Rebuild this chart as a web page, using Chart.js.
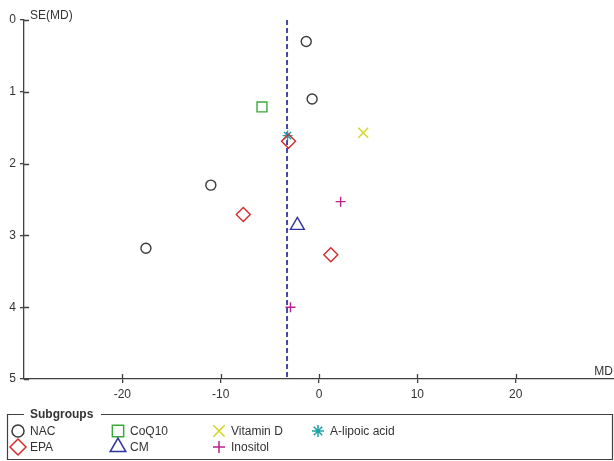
<!DOCTYPE html>
<html>
<head>
<meta charset="utf-8">
<script src="https://cdn.jsdelivr.net/npm/chart.js"></script>
<style>
  body { margin: 0; background: #fff; }
  canvas { display: block; }
</style>
</head>
<body>
<canvas id="funnel" width="614" height="461"></canvas>
<script>
// values (MD on x, SE(MD) on y)
const nacMD = [-1.3, -0.7, -11.0, -17.6]
const nacSE = [0.30, 1.10, 2.30, 3.18]
const epaMD = [-3.1, -7.7, 1.2]
const epaSE = [1.69, 2.71, 3.27]
const coq10MD = [-5.8]
const coq10SE = [1.21]
const cmMD = [-2.2]
const cmSE = [2.86]
const vitDMD = [4.5]
const vitDSE = [1.57]
const inositolMD = [2.2, -2.9]
const inositolSE = [2.53, 4.0]
const lipoicMD = [-3.2]
const lipoicSE = [1.61]
const pooledMD = -3.25

const xTicks = [-20, -10, 0, 10, 20]
const yTicks = [0, 1, 2, 3, 4, 5]

const axisColor = '#404040'
const textColor = '#333333'
const font = 'Liberation Sans, Arial, sans-serif'

function points(md, se) {
    return md.map((x, i) => ({ x: x, y: se[i] }))
}

function group(label, md, se, style, color, radius) {
    return {
        label: label,
        data: points(md, se),
        pointStyle: style,
        pointRadius: radius,
        pointHoverRadius: radius,
        pointBorderWidth: 1.4,
        borderColor: color,
        backgroundColor: 'rgba(0,0,0,0)',
        showLine: false,
    }
}

// legend is read column by column, like the original
const groups = [
    group('NAC', nacMD, nacSE, 'circle', '#3a3a3a', 5),
    group('EPA', epaMD, epaSE, 'rectRot', '#d42a2a', 7),
    group('CoQ10', coq10MD, coq10SE, 'rect', '#3aaa3a', 7),
    group('CM', cmMD, cmSE, 'triangle', '#2f35a0', 8),
    group('Vitamin D', vitDMD, vitDSE, 'crossRot', '#d6d41e', 7),
    group('Inositol', inositolMD, inositolSE, 'cross', '#b8228e', 5),
    group('A-lipoic acid', lipoicMD, lipoicSE, 'star', '#1ea3a8', 5),
]

const pooledLine = {
    label: 'pooled',
    data: [{ x: pooledMD, y: 0 }, { x: pooledMD, y: 5 }],
    showLine: true,
    borderColor: '#4646aa',
    borderWidth: 2,
    borderDash: [5, 3],
    pointRadius: 0,
    pointHoverRadius: 0,
}

// ticks cross the axis line a little on the inside too
const innerTicks = {
    id: 'innerTicks',
    afterDraw(chart) {
        const ctx = chart.ctx
        const x = chart.scales.x
        const y = chart.scales.y
        ctx.save()
        ctx.strokeStyle = axisColor
        ctx.lineWidth = 1.3
        ctx.beginPath()
        for (const v of xTicks) {
            const px = Math.round(x.getPixelForValue(v)) + 0.5
            ctx.moveTo(px, x.top)
            ctx.lineTo(px, x.top - 5)
        }
        for (const v of yTicks) {
            const py = Math.round(y.getPixelForValue(v)) + 0.5
            ctx.moveTo(y.right, py)
            ctx.lineTo(y.right + 5, py)
        }
        ctx.stroke()
        ctx.restore()
    },
}

const axisTitles = {
    id: 'axisTitles',
    afterDraw(chart) {
        const ctx = chart.ctx
        ctx.save()
        ctx.fillStyle = textColor
        ctx.font = '12px ' + font
        ctx.textBaseline = 'alphabetic'
        ctx.textAlign = 'left'
        ctx.fillText('SE(MD)', 30, 19)
        ctx.textAlign = 'right'
        ctx.fillText('MD', 613, 375)
        ctx.restore()
    },
}

const subgroupLegend = {
    id: 'subgroupLegend',
    afterDraw(chart) {
        const ctx = chart.ctx
        const left = 7.5, top = 414.5, right = 612.5, bottom = 459.5
        const gapFrom = 24, gapTo = 101
        ctx.save()
        ctx.strokeStyle = axisColor
        ctx.lineWidth = 1.2
        ctx.beginPath()
        ctx.moveTo(gapFrom, top)
        ctx.lineTo(left, top)
        ctx.lineTo(left, bottom)
        ctx.lineTo(right, bottom)
        ctx.lineTo(right, top)
        ctx.lineTo(gapTo, top)
        ctx.stroke()

        ctx.fillStyle = textColor
        ctx.font = 'bold 12px ' + font
        ctx.textBaseline = 'middle'
        ctx.textAlign = 'left'
        ctx.fillText('Subgroups', 30, top)

        const colX = [18, 118, 219, 318]
        const rowY = [431, 447]
        ctx.font = '12px ' + font
        groups.forEach((ds, i) => {
            const cx = colX[Math.floor(i / 2)]
            const cy = rowY[i % 2]
            ctx.strokeStyle = ds.borderColor
            ctx.fillStyle = 'rgba(0,0,0,0)'
            ctx.lineWidth = 1.5
            Chart.helpers.drawPoint(ctx, {
                pointStyle: ds.pointStyle,
                radius: ds.pointRadius + 1,
                borderWidth: 1.5,
                rotation: 0,
            }, cx, cy)
            ctx.fillStyle = textColor
            ctx.fillText(ds.label, cx + 12, cy + 1)
        })
        ctx.restore()
    },
}

new Chart('funnel', {
    type: 'scatter',
    data: { datasets: groups.concat([pooledLine]) },
    plugins: [innerTicks, axisTitles, subgroupLegend],
    options: {
        responsive: false,
        devicePixelRatio: 1,
        animation: false,
        events: [],
        layout: {
            autoPadding: false,
            padding: { top: 20, left: 0, right: 0, bottom: 0 },
        },
        plugins: {
            legend: { display: false },
            tooltip: { enabled: false },
        },
        scales: {
            x: {
                type: 'linear',
                min: -30,
                max: 30,
                afterBuildTicks: (scale) => {
                    scale.ticks = xTicks.map((v) => ({ value: v }))
                },
                afterFit: (scale) => {
                    scale.height = 82
                    scale.paddingLeft = 0
                    scale.paddingRight = 0
                },
                grid: {
                    drawOnChartArea: false,
                    tickLength: 4,
                    color: axisColor,
                    lineWidth: 1.3,
                },
                border: { color: axisColor, width: 1.3 },
                ticks: {
                    padding: 4,
                    color: textColor,
                    font: { family: font, size: 12 },
                    maxRotation: 0,
                },
            },
            y: {
                type: 'linear',
                reverse: true,
                min: 0,
                max: 5,
                afterBuildTicks: (scale) => {
                    scale.ticks = yTicks.map((v) => ({ value: v }))
                },
                afterFit: (scale) => {
                    scale.width = 24
                    scale.paddingTop = 0
                    scale.paddingBottom = 0
                },
                grid: {
                    drawOnChartArea: false,
                    tickLength: 4,
                    color: axisColor,
                    lineWidth: 1.3,
                },
                border: { color: axisColor, width: 1.3 },
                ticks: {
                    padding: 4,
                    color: textColor,
                    font: { family: font, size: 12 },
                },
            },
        },
    },
})
</script>
</body>
</html>
